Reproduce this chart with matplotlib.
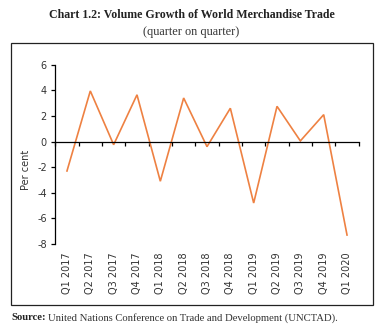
import matplotlib
matplotlib.use("Agg")
import matplotlib.pyplot as plt
from matplotlib.patches import Rectangle
from matplotlib.ticker import FixedLocator

quarters = ["Q1 2017", "Q2 2017", "Q3 2017", "Q4 2017", "Q1 2018", "Q2 2018",
            "Q3 2018", "Q4 2018", "Q1 2019", "Q2 2019", "Q3 2019", "Q4 2019",
            "Q1 2020"]
growth = [-2.3, 3.95, -0.25, 3.65, -3.1, 3.4, -0.4, 2.6, -4.8, 2.75, 0.05, 2.1, -7.3]
y_ticks = [-8, -6, -4, -2, 0, 2, 4, 6]

W, H = 383, 333
fig = plt.figure(figsize=(W / 100, H / 100), dpi=100)
fig.patch.set_facecolor("white")

def fx(px):
    return px / W

def fy(py):
    return 1 - py / H

ax = fig.add_axes([fx(55.3), fy(244), fx(358.7) - fx(55.3), fy(64.7) - fy(244)])
x = list(range(len(quarters)))
ax.plot(x, growth, color="#EE8142", lw=1.2, solid_joinstyle="miter")

ax.set_xlim(-0.5, len(quarters) - 0.5)
ax.set_ylim(-8, 6)
ax.set_yticks(y_ticks)
ax.set_yticklabels([str(v) for v in y_ticks])

for s in ("top", "right"):
    ax.spines[s].set_visible(False)
ax.spines["left"].set_linewidth(0.9)
ax.spines["bottom"].set_position(("data", 0))
ax.spines["bottom"].set_linewidth(0.9)

# category boundary ticks on the zero line
ax.xaxis.set_major_locator(FixedLocator([i + 0.5 for i in range(-1, len(quarters))]))
ax.tick_params(axis="x", which="major", direction="out", length=3, width=0.9,
               labelbottom=False)
ax.tick_params(axis="y", direction="out", length=3, width=0.9, pad=3,
               labelsize=7, labelcolor="#333333")

# quarter labels along the bottom of the plot area
sec = ax.secondary_xaxis(0.0)
sec.set_xticks(x)
sec.set_xticklabels(quarters, rotation=90, fontsize=7, color="#333333")
sec.tick_params(length=0, pad=6)
sec.spines["bottom"].set_visible(False)

fig.text(fx(26), fy(170), "Per cent", rotation=90, ha="center", va="center",
         fontsize=7, color="#333333")

fig.text(0.5, fy(15.5), "Chart 1.2: Volume Growth of World Merchandise Trade",
         ha="center", va="center", fontsize=8.6, fontweight="bold",
         family="Liberation Serif", color="#222222")
fig.text(0.5, fy(32.5), "(quarter on quarter)", ha="center", va="center",
         fontsize=8.8, family="Liberation Serif", color="#333333")

fig.patches.append(Rectangle((fx(11), fy(305)), fx(373) - fx(11), fy(42.7) - fy(305),
                             transform=fig.transFigure, fill=False,
                             edgecolor="#222222", lw=0.9))

t1 = fig.text(fx(11), fy(318), "Source:", ha="left", va="center", fontsize=7.7,
              fontweight="bold", family="Liberation Serif", color="#222222")
fig.canvas.draw()
bb = t1.get_window_extent()
fig.text(bb.x1 / W + fx(2.5), fy(318),
         "United Nations Conference on Trade and Development (UNCTAD).",
         ha="left", va="center", fontsize=7.7, family="Liberation Serif",
         color="#333333")

fig.savefig("out.png", dpi=100)
